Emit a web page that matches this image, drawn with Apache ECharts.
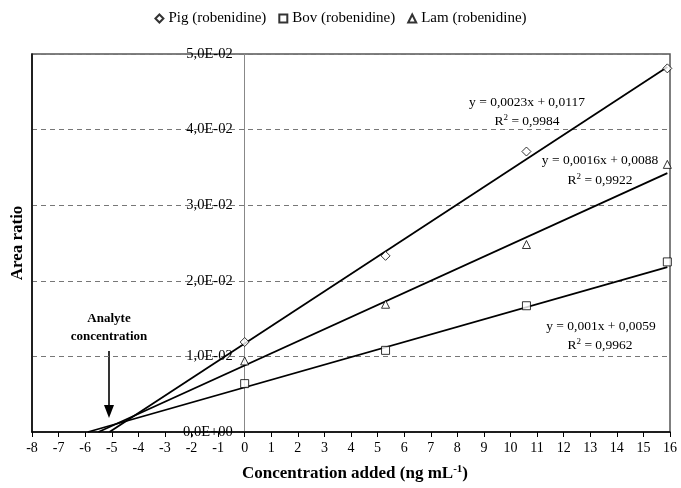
<!DOCTYPE html>
<html>
<head>
<meta charset="utf-8">
<script src="https://cdn.jsdelivr.net/npm/echarts@6/dist/echarts.min.js"></script>
<style>
  html, body { margin: 0; padding: 0; background: #fff; }
  #chart { width: 681px; height: 488px; }
</style>
</head>
<body>
<div id="chart"></div>
<script>
// concentration added (ng/mL)
var xAdded = [0, 5.3, 10.6, 15.9];
// area ratios
var pig = [0.0119, 0.0233, 0.0371, 0.0481];
var bov = [0.0064, 0.0108, 0.0167, 0.0225];
var lam = [0.0094, 0.0169, 0.0248, 0.0354];
var seriesNames = ['Pig (robenidine)', 'Bov (robenidine)', 'Lam (robenidine)'];
// trendlines (pig, bov, lam)
var slopes = [0.0023, 0.001, 0.0016];
var intercepts = [0.0117, 0.0059, 0.0088];
var r2 = ['0,9984', '0,9962', '0,9922'];
var xTicks = { min: -8, max: 16, interval: 1 };
var yTicks = { min: 0, max: 0.05, interval: 0.01 };

var FONT = '"Liberation Serif", "Times New Roman", serif';

function sciLabel(v) {
  if (Math.abs(v) < 1e-12) return '0,0E+00';
  var e = Math.floor(Math.log10(v) + 1e-9);
  var m = v / Math.pow(10, e);
  var s = Math.abs(e) < 10 ? '0' + Math.abs(e) : '' + Math.abs(e);
  return m.toFixed(1).replace('.', ',') + 'E' + (e < 0 ? '-' : '+') + s;
}

function pts(arr) {
  return xAdded.map(function (x, i) { return [x, arr[i]]; });
}

function trend(i) {
  var x0 = -intercepts[i] / slopes[i];
  var x1 = xAdded[xAdded.length - 1];
  return [[x0, 0], [x1, slopes[i] * x1 + intercepts[i]]];
}

function eqText(i) {
  return 'y = ' + String(slopes[i]).replace('.', ',') + 'x + ' + String(intercepts[i]).replace('.', ',');
}

var markerStyle = { color: '#fff', borderColor: '#000', borderWidth: 1 };

// grid box in pixels; y labels sit just left of the x = 0 line
var G = { left: 32, right: 11, top: 54, bottom: 56 };
var plotW = 681 - G.left - G.right;
var zeroPx = G.left + (0 - xTicks.min) / (xTicks.max - xTicks.min) * plotW;

var eqRich = {
  a: { fontFamily: FONT, fontSize: 13.5, color: '#000', lineHeight: 16 },
  s: { fontFamily: FONT, fontSize: 9, color: '#000', verticalAlign: 'top', lineHeight: 16 }
};
function eqLabel(x, y, txt) {
  return { type: 'text', x: x, y: y, style: { text: txt, rich: eqRich, align: 'center', verticalAlign: 'middle' } };
}
function r2Label(x, y, i) {
  return eqLabel(x, y, '{a|R}{s|2}{a| = ' + r2[i] + '}');
}

var chart = echarts.init(document.getElementById('chart'));
var option = {
  backgroundColor: '#fff',
  animation: false,
  textStyle: { fontFamily: FONT },
  legend: {
    data: seriesNames,
    top: 6,
    left: 'center',
    itemWidth: 8,
    itemHeight: 8,
    itemGap: 12,
    textStyle: { fontFamily: FONT, fontSize: 15, color: '#000' }
  },
  grid: {
    left: G.left, right: G.right, top: G.top, bottom: G.bottom,
    containLabel: false, outerBoundsMode: 'none',
    show: true, borderColor: '#555', borderWidth: 1.5
  },
  xAxis: {
    type: 'value',
    min: xTicks.min, max: xTicks.max, interval: xTicks.interval,
    name: '{a|Concentration added (ng mL}{s|-1}{a|)}',
    nameLocation: 'middle',
    nameGap: 32,
    nameTextStyle: {
      padding: [0, 0, 0, 8],
      rich: {
        a: { fontFamily: FONT, fontSize: 17, fontWeight: 'bold', color: '#000', lineHeight: 20 },
        s: { fontFamily: FONT, fontSize: 11, fontWeight: 'bold', color: '#000', verticalAlign: 'top', lineHeight: 20 }
      }
    },
    axisLine: { onZero: false, lineStyle: { color: '#000', width: 1.5 } },
    axisTick: { show: true, length: 5, lineStyle: { color: '#000' } },
    axisLabel: { fontFamily: FONT, fontSize: 14, color: '#000', margin: 9 },
    splitLine: { show: false }
  },
  yAxis: [{
    type: 'value',
    min: yTicks.min, max: yTicks.max, interval: yTicks.interval,
    axisLine: { show: true, onZero: true, lineStyle: { color: '#888', width: 1 } },
    axisTick: { show: false },
    axisLabel: { fontFamily: FONT, fontSize: 14.5, color: '#000', margin: G.left - (zeroPx - 12), formatter: sciLabel },
    splitLine: { show: true, lineStyle: { color: '#777', type: [5, 4], width: 1 } }
  }, {
    type: 'value',
    position: 'left',
    min: yTicks.min, max: yTicks.max, interval: yTicks.interval,
    name: 'Area ratio',
    nameLocation: 'middle',
    nameGap: 6,
    nameTextStyle: { fontFamily: FONT, fontSize: 17, fontWeight: 'bold', color: '#000' },
    axisLine: { show: true, onZero: false, lineStyle: { color: '#000', width: 1.5 } },
    axisTick: { show: false },
    axisLabel: { show: false },
    splitLine: { show: false }
  }],
  series: [
    { name: seriesNames[0], type: 'scatter', symbol: 'diamond', symbolSize: 9, data: pts(pig), itemStyle: markerStyle, z: 5 },
    { name: seriesNames[1], type: 'scatter', symbol: 'rect', symbolSize: 8, data: pts(bov), itemStyle: markerStyle, z: 5 },
    { name: seriesNames[2], type: 'scatter', symbol: 'triangle', symbolSize: 8, data: pts(lam), itemStyle: markerStyle, z: 5 },
    { type: 'line', data: trend(0), showSymbol: false, symbol: 'none', lineStyle: { color: '#000', width: 1.8 }, z: 3 },
    { type: 'line', data: trend(1), showSymbol: false, symbol: 'none', lineStyle: { color: '#000', width: 1.8 }, z: 3 },
    { type: 'line', data: trend(2), showSymbol: false, symbol: 'none', lineStyle: { color: '#000', width: 1.8 }, z: 3 }
  ],
  graphic: [
    // equation labels
    eqLabel(527, 102, '{a|' + eqText(0) + '}'),
    r2Label(527, 121, 0),
    eqLabel(600, 160, '{a|' + eqText(2) + '}'),
    r2Label(600, 180, 2),
    eqLabel(601, 326, '{a|' + eqText(1) + '}'),
    r2Label(600, 345, 1),
    // analyte concentration annotation
    { type: 'text', x: 109, y: 319, style: { text: 'Analyte', font: 'bold 13px ' + FONT, fill: '#000', align: 'center', verticalAlign: 'middle' } },
    { type: 'text', x: 109, y: 337, style: { text: 'concentration', font: 'bold 13px ' + FONT, fill: '#000', align: 'center', verticalAlign: 'middle' } },
    { type: 'line', shape: { x1: 109, y1: 351, x2: 109, y2: 408 }, style: { stroke: '#000', lineWidth: 1.6 } },
    { type: 'polygon', shape: { points: [[104, 405], [114, 405], [109, 418]] }, style: { fill: '#000' } }
  ]
};
chart.setOption(option);
window.onresize = function () { chart.resize(); };
</script>
</body>
</html>
